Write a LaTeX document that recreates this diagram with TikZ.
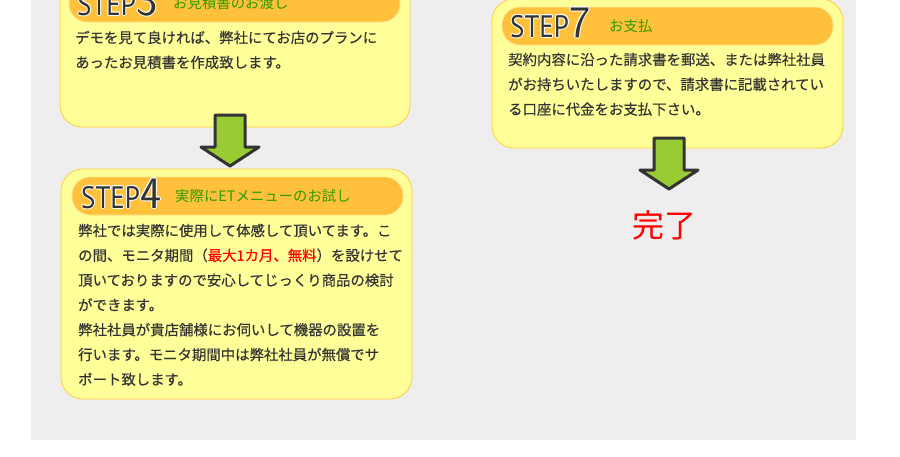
\documentclass[tikz,border=0pt]{standalone}
\usepackage{fontspec}
\setmainfont{Noto Sans CJK JP}
\newfontfamily\bodyfont[FakeBold=0.35]{Noto Sans CJK JP}
\newfontfamily\stepfont[FakeStretch=0.87]{PT Sans}
\usetikzlibrary{calc}
\definecolor{panel}{HTML}{EEEEEE}
\definecolor{boxfill}{HTML}{FFFF99}
\definecolor{boxline}{HTML}{FFCC33}
\definecolor{headfill}{HTML}{FFC13B}
\definecolor{headline}{HTML}{FFE38A}
\definecolor{txt}{HTML}{333333}
\definecolor{subgreen}{HTML}{2E9B00}
\definecolor{arrowfill}{HTML}{99CC33}
\definecolor{arrowline}{HTML}{333333}
\definecolor{donered}{HTML}{FF0000}
\newcommand\haloed[1]{\leavevmode
  \rlap{\color{white}\kern-1pt#1}%
  \rlap{\color{white}\kern1pt#1}%
  \rlap{\color{white}\raisebox{1pt}{#1}}%
  \rlap{\color{white}\raisebox{-1pt}{#1}}%
  \rlap{\color{white}\kern-0.7pt\raisebox{0.7pt}{#1}}%
  \rlap{\color{white}\kern0.7pt\raisebox{0.7pt}{#1}}%
  \rlap{\color{white}\kern-0.7pt\raisebox{-0.7pt}{#1}}%
  \rlap{\color{white}\kern0.7pt\raisebox{-0.7pt}{#1}}%
  {\color{txt}#1}}
\newcommand\stepword{\fontsize{31}{31}\stepfont STEP}
\newcommand\stepnum[1]{\fontsize{45}{45}\sffamily #1}
\tikzset{
  box/.style={fill=boxfill, draw=boxline, line width=0.8pt, rounded corners=22pt},
  headbar/.style={fill=headfill, draw=headline, line width=0.8pt, rounded corners=18pt},
  blockarrow/.style={fill=arrowfill, draw=arrowline, line width=3pt, line join=round},
  steplabel/.style={anchor=base west, inner sep=0pt},
  subtitle/.style={anchor=base west, inner sep=0pt, text=subgreen, font=\fontsize{14.4}{16}\selectfont},
  bodytext/.style={anchor=base west, inner sep=0pt, text=txt, text width=345pt, align=left,
    font=\fontsize{14.4}{24.8}\bodyfont},
  downarrow/.pic={\path[blockarrow] (-15,0) -- (15,0) -- (15,32) -- (29,32) -- (0,51) -- (-29,32) -- (-15,32) -- cycle;}
}
\begin{document}
\begin{tikzpicture}[x=1pt,y=-1pt]
\useasboundingbox (0,0) rectangle (900,456);
\clip (0,0) rectangle (900,456);
\fill[white] (0,0) rectangle (900,456);
\fill[panel] (31,-5) rectangle (856,440);

% STEP3
\path[box] (60,-24) rectangle (410,127);
\path[headbar] (69,-16) rectangle (400,22);
\node[steplabel] (s3) at (77,15) {\haloed{\stepword}\haloed{\stepnum{3}}};
\node[subtitle] (t3) at (173,8) {お見積書のお渡し};
\node[bodytext] (b3) at (75,43) {デモを見て良ければ、弊社にてお店のプランに\\あったお見積書を作成致します。};

% arrow 3 -> 4
\pic at (230,115) {downarrow};

% STEP4
\path[box] (61,169) rectangle (412,399);
\path[headbar] (72,177) rectangle (403,215);
\node[steplabel] (s4) at (81,208) {\haloed{\stepword}\haloed{\stepnum{4}}};
\node[subtitle] (t4) at (175,201) {実際にETメニューのお試し};
\node[bodytext] (b4) at (78,236) {弊社では実際に使用して体感して頂いてます。こ\\の間、モニタ期間（\textcolor{donered}{最大1カ月、無料}）を設けせて\\頂いておりますので安心してじっくり商品の検討\\ができます。\\弊社社員が貴店舗様にお伺いして機器の設置を\\行います。モニタ期間中は弊社社員が無償でサ\\ポート致します。};

% STEP7
\path[box] (492,-1) rectangle (843,148);
\path[headbar] (502,7) rectangle (833,45);
\node[steplabel] (s7) at (510,37) {\haloed{\stepword}\haloed{\stepnum{7}}};
\node[subtitle] (t7) at (609,31) {お支払};
\node[bodytext] (b7) at (508,65) {契約内容に沿った請求書を郵送、または弊社社員\\がお持ちいたしますので、請求書に記載されてい\\る口座に代金をお支払下さい。};

% arrow 7 -> done
\pic at (669,138) {downarrow};

\node[anchor=base, inner sep=0pt, text=donered, font=\fontsize{32}{32}\selectfont] (done) at (664,237) {完了};
\end{tikzpicture}
\end{document}
